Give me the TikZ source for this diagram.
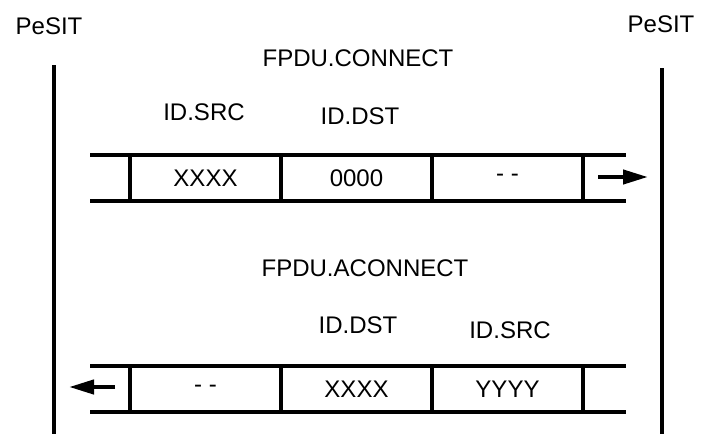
\documentclass[tikz,border=0pt]{standalone}
\usepackage{fontspec}
\setmainfont{Liberation Sans}
\usetikzlibrary{arrows.meta}

\tikzset{
  txt/.style={font=\fontsize{20.5}{24}\selectfont, inner sep=0pt},
  cell/.style={draw, line width=2.6pt, minimum width=4.53cm, minimum height=1.38cm,
    inner sep=0pt, font=\fontsize{20.5}{24}\selectfont},
  bandline/.style={line width=2.8pt},
  lifeline/.style={line width=2.6pt},
  flow/.style={line width=3.6pt, -{Triangle[length=0.75cm, width=0.42cm]}}
}

\begin{document}
\begin{tikzpicture}[x=0.03cm, y=-0.03cm]
  \useasboundingbox (0,0) rectangle (701,436);

  % the two PeSIT entities
  \node[txt] (pesitL) at (49,26) {PeSIT};
  \node[txt] (pesitR) at (661,24) {PeSIT};
  \coordinate (lifeLtop) at (54,65);
  \coordinate (lifeLbot) at (54,434);
  \coordinate (lifeRtop) at (662,68);
  \coordinate (lifeRbot) at (662,434);
  \draw[lifeline] (lifeLtop) -- (lifeLbot);
  \draw[lifeline] (lifeRtop) -- (lifeRbot);

  % FPDU.CONNECT
  \node[txt] (connect) at (358,58) {FPDU.CONNECT};
  \node[txt] (srcA) at (204,112) {ID.SRC};
  \node[txt] (dstA) at (360,116) {ID.DST};
  \node[cell] (cA1) at (205.5,178) {XXXX};
  \node[cell] (cA2) at (356.5,178) {0000};
  \node[cell] (cA3) at (507.5,178) {- -};
  \coordinate (bandAtl) at (90,155);
  \coordinate (bandAtr) at (626,155);
  \coordinate (bandAbl) at (90,201);
  \coordinate (bandAbr) at (626,201);
  \draw[bandline] (bandAtl) -- (bandAtr);
  \draw[bandline] (bandAbl) -- (bandAbr);
  \coordinate (sendA) at (598,177);
  \coordinate (recvA) at (648,177);
  \draw[flow] (sendA) -- (recvA);

  % FPDU.ACONNECT
  \node[txt] (aconnect) at (365,268) {FPDU.ACONNECT};
  \node[txt] (dstB) at (358,325) {ID.DST};
  \node[txt] (srcB) at (510,330) {ID.SRC};
  \node[cell] (cB1) at (205.5,389) {- -};
  \node[cell] (cB2) at (356.5,389) {XXXX};
  \node[cell] (cB3) at (507.5,389) {YYYY};
  \coordinate (bandBtl) at (90,366);
  \coordinate (bandBtr) at (626,366);
  \coordinate (bandBbl) at (90,412);
  \coordinate (bandBbr) at (626,412);
  \draw[bandline] (bandBtl) -- (bandBtr);
  \draw[bandline] (bandBbl) -- (bandBbr);
  \coordinate (sendB) at (115,387);
  \coordinate (recvB) at (69,387);
  \draw[flow] (sendB) -- (recvB);
\end{tikzpicture}
\end{document}
